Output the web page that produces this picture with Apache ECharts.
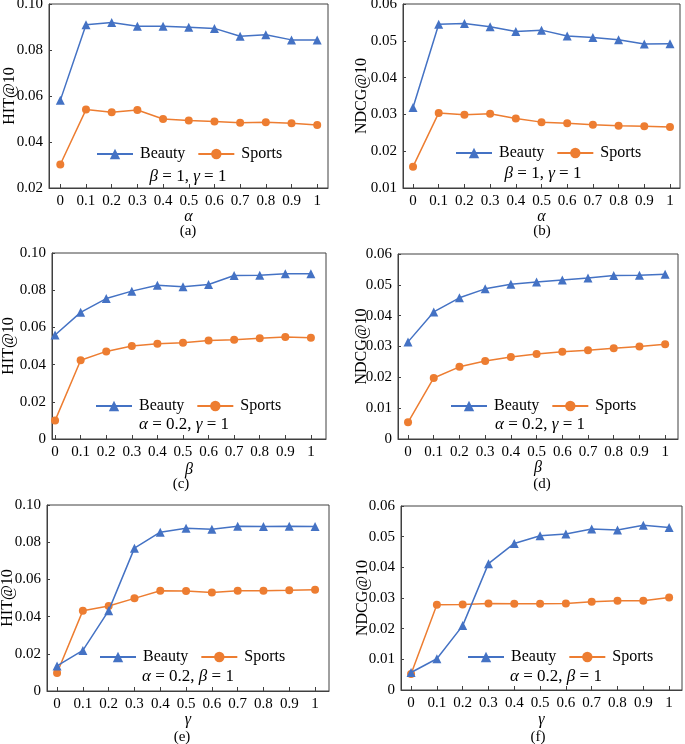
<!DOCTYPE html>
<html>
<head>
<meta charset="utf-8">
<script src="https://cdn.jsdelivr.net/npm/echarts@6/dist/echarts.min.js"></script>
<style>
html,body{margin:0;padding:0;background:#fff;}
#chart{width:685px;height:744px;}
</style>
</head>
<body>
<div id="chart"></div>
<script>
// ---------- data ----------
const xValues = [0, 0.1, 0.2, 0.3, 0.4, 0.5, 0.6, 0.7, 0.8, 0.9, 1];
const xTickLabels = [0, 0.1, 0.2, 0.3, 0.4, 0.5, 0.6, 0.7, 0.8, 0.9, 1];
const seriesNames = ['Beauty', 'Sports'];

const hitA_beauty  = [0.0581, 0.0910, 0.0920, 0.0903, 0.0903, 0.0899, 0.0894, 0.0860, 0.0866, 0.0844, 0.0844];
const hitA_sports  = [0.0302, 0.0541, 0.0529, 0.0539, 0.0500, 0.0493, 0.0489, 0.0484, 0.0486, 0.0481, 0.0474];
const ndcgB_beauty = [0.0319, 0.0545, 0.0547, 0.0538, 0.0525, 0.0529, 0.0513, 0.0509, 0.0503, 0.0491, 0.0492];
const ndcgB_sports = [0.0158, 0.0304, 0.0299, 0.0302, 0.0289, 0.0279, 0.0276, 0.0272, 0.0269, 0.0268, 0.0266];
const hitC_beauty  = [0.0559, 0.0681, 0.0755, 0.0795, 0.0827, 0.0818, 0.0831, 0.0879, 0.0881, 0.0888, 0.0888];
const hitC_sports  = [0.0099, 0.0423, 0.0471, 0.0500, 0.0512, 0.0518, 0.0530, 0.0534, 0.0541, 0.0548, 0.0545];
const ndcgD_beauty = [0.0315, 0.0412, 0.0458, 0.0487, 0.0502, 0.0509, 0.0516, 0.0522, 0.0530, 0.0531, 0.0534];
const ndcgD_sports = [0.0054, 0.0198, 0.0234, 0.0253, 0.0266, 0.0276, 0.0283, 0.0288, 0.0294, 0.0300, 0.0307];
const hitE_beauty  = [0.0135, 0.0218, 0.0432, 0.0768, 0.0854, 0.0875, 0.0870, 0.0886, 0.0884, 0.0886, 0.0884];
const hitE_sports  = [0.0097, 0.0432, 0.0457, 0.0498, 0.0539, 0.0538, 0.0530, 0.0539, 0.0539, 0.0541, 0.0544];
const ndcgF_beauty = [0.0057, 0.0102, 0.0210, 0.0412, 0.0478, 0.0503, 0.0509, 0.0525, 0.0522, 0.0537, 0.0530];
const ndcgF_sports = [0.0052, 0.0278, 0.0279, 0.0282, 0.0281, 0.0281, 0.0282, 0.0288, 0.0291, 0.0291, 0.0302];

const yAxisNames = ['HIT@10', 'NDCG@10', 'HIT@10', 'NDCG@10', 'HIT@10', 'NDCG@10'];
const xAxisNames = ['α', 'α', 'β', 'β', 'γ', 'γ'];
const captions = ['(a)', '(b)', '(c)', '(d)', '(e)', '(f)'];
const notes = [
  ['β', ' = 1, ', 'γ', ' = 1'],
  ['β', ' = 1, ', 'γ', ' = 1'],
  ['α', ' = 0.2, ', 'γ', ' = 1'],
  ['α', ' = 0.2, ', 'γ', ' = 1'],
  ['α', ' = 0.2, ', 'β', ' = 1'],
  ['α', ' = 0.2, ', 'β', ' = 1']
];
const beautyData = [hitA_beauty, ndcgB_beauty, hitC_beauty, ndcgD_beauty, hitE_beauty, ndcgF_beauty];
const sportsData = [hitA_sports, ndcgB_sports, hitC_sports, ndcgD_sports, hitE_sports, ndcgF_sports];
const yMin = [0.02, 0.01, 0, 0, 0, 0];
const yMax = [0.10, 0.06, 0.10, 0.06, 0.10, 0.06];
const yStep = [0.02, 0.01, 0.02, 0.01, 0.02, 0.01];

// ---------- layout ----------
const layout = [
  {l: 49,  t: 4,   r: 328, b: 188, xmin: -0.044, xmax: 1.042, yGap: 31, xGap: 21, leg: [96, 146],  note: [188, 177], cap: [188, 231], lp: 3},
  {l: 403, t: 4,   r: 680, b: 188, xmin: -0.039, xmax: 1.039, yGap: 33, xGap: 21, leg: [455, 145], note: [543, 174], cap: [542, 231], lp: 3},
  {l: 52,  t: 253, r: 326, b: 439, xmin: -0.012, xmax: 1.059, yGap: 35, xGap: 23, leg: [95, 398],  note: [184, 425], cap: [181, 484], lp: 0},
  {l: 398, t: 254, r: 678, b: 439, xmin: -0.039, xmax: 1.050, yGap: 28, xGap: 21, leg: [450, 398], note: [540, 425], cap: [542, 484], lp: 0},
  {l: 47,  t: 505, r: 329, b: 691, xmin: -0.039, xmax: 1.054, yGap: 31, xGap: 21, leg: [99, 649],  note: [188, 677], cap: [182, 737], lp: 0},
  {l: 401, t: 506, r: 682, b: 690, xmin: -0.039, xmax: 1.050, yGap: 30, xGap: 22, leg: [467, 649], note: [556, 677], cap: [538, 737], lp: 0}
];

const BLUE = '#4472C4', ORANGE = '#ED7D31', AXIS = '#404040';
const FONT = '"Liberation Serif", "Times New Roman", serif';
const W = 685, H = 744;

const grid = [], xAxis = [], yAxis = [], series = [], legend = [], graphic = [];
layout.forEach((p, i) => {
  grid.push({left: p.l, top: p.t, width: p.r - p.l, height: p.b - p.t,
    show: true, borderColor: AXIS, borderWidth: 1, backgroundColor: 'transparent',
    containLabel: false, outerBoundsMode: 'none'});
  xAxis.push({type: 'value', gridIndex: i, min: p.xmin, max: p.xmax,
    name: xAxisNames[i], nameLocation: 'middle', nameGap: p.xGap, nameMoveOverlap: false,
    nameTextStyle: {fontFamily: FONT, fontStyle: 'italic', fontSize: 16, color: '#000'},
    axisLine: {show: true, onZero: false, lineStyle: {color: AXIS, width: 1}},
    axisTick: {show: true, inside: true, length: 4, customValues: xTickLabels, lineStyle: {color: AXIS}},
    axisLabel: {customValues: xTickLabels, margin: 6, fontFamily: FONT, fontSize: 15, color: '#000',
      formatter: v => String(v)},
    splitLine: {show: false}});
  yAxis.push({type: 'value', gridIndex: i, min: yMin[i], max: yMax[i], interval: yStep[i],
    name: yAxisNames[i], nameLocation: 'middle', nameGap: p.yGap, nameRotate: 90, nameMoveOverlap: false,
    nameTextStyle: {fontFamily: FONT, fontSize: 16, color: '#000'},
    axisLine: {show: true, onZero: false, lineStyle: {color: AXIS, width: 1}},
    axisTick: {show: true, inside: true, length: 3, lineStyle: {color: AXIS}},
    axisLabel: {margin: 6, fontFamily: FONT, fontSize: 15, color: '#000', padding: [p.lp, 0, 0, 0],
      formatter: v => v === 0 ? '0' : v.toFixed(2)},
    splitLine: {show: false}});
  series.push({type: 'line', name: seriesNames[0], xAxisIndex: i, yAxisIndex: i,
    data: xValues.map((x, k) => [x, beautyData[i][k]]),
    symbol: 'triangle', symbolSize: 9, color: BLUE,
    lineStyle: {color: BLUE, width: 1.5}, itemStyle: {color: BLUE}, z: 3});
  series.push({type: 'line', name: seriesNames[1], xAxisIndex: i, yAxisIndex: i,
    data: xValues.map((x, k) => [x, sportsData[i][k]]),
    symbol: 'circle', symbolSize: 8, color: ORANGE,
    lineStyle: {color: ORANGE, width: 1.5}, itemStyle: {color: ORANGE}, z: 2});
  legend.push({data: seriesNames, left: p.leg[0], top: p.leg[1], orient: 'horizontal',
    itemWidth: 36, itemHeight: 13, itemGap: 12, padding: 0,
    textStyle: {fontFamily: FONT, fontSize: 16, color: '#000', padding: [0, 0, 0, 2]},
    selectedMode: false});
  const n = notes[i];
  graphic.push({type: 'text', x: p.note[0], y: p.note[1],
    style: {text: '{g|' + n[0] + '}{r|' + n[1] + '}{g|' + n[2] + '}{r|' + n[3] + '}',
      align: 'center', verticalAlign: 'middle',
      rich: {g: {fontFamily: FONT, fontStyle: 'italic', fontSize: 17, fill: '#000'},
             r: {fontFamily: FONT, fontSize: 17, fill: '#000'}}}});
  graphic.push({type: 'text', x: p.cap[0], y: p.cap[1],
    style: {text: captions[i], align: 'center', verticalAlign: 'middle',
      font: '15px ' + FONT, fill: '#000'}});
});

const chart = echarts.init(document.getElementById('chart'), null, {renderer: 'canvas', width: W, height: H});
chart.setOption({
  backgroundColor: '#fff',
  animation: false,
  grid, xAxis, yAxis, series, legend, graphic
});
</script>
</body>
</html>
